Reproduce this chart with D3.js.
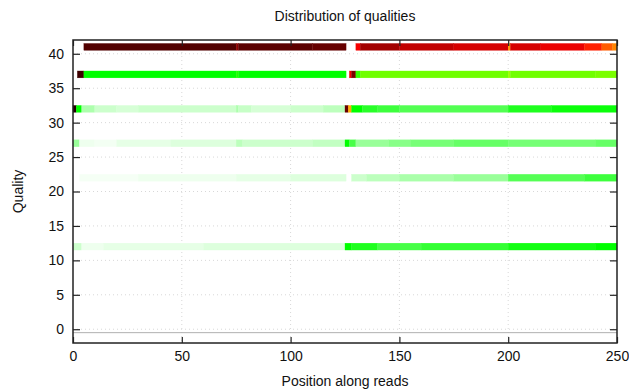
<!DOCTYPE html>
<html>
<head>
<meta charset="utf-8">
<script src="https://cdn.jsdelivr.net/npm/d3@7"></script>
<style>
  body { margin: 0; background: #fff; }
  text { font-family: "Liberation Sans", Arial, sans-serif; }
</style>
</head>
<body>
<div id="chart"></div>
<script>
// quality rows shown in the heatmap
var qualities = [41, 37, 32, 27, 22, 12];

// each row: [from position, to position, palette value 0..1]
var q41 = [[5,75,0.92],[75,76,0.86],[76,110,0.91],[110,125.5,0.9],
  [130,132,0.76],[132,150,0.84],[150,175,0.81],[175,200,0.79],[200,201,0.6],
  [201,215,0.79],[215,235,0.77],[235,243,0.72],[243,248,0.66],[248,250,0.62]];
var q37 = [[2,5,0.94],[5,75,0.25],[75,76,0.28],[76,125.5,0.25],
  [127,128,0.76],[128,130,0.88],[130,132,0.3],[132,200,0.36],[200,201,0.4],
  [201,240,0.36],[240,250,0.37]];
var q32 = [[0,1.5,0.97],[1.5,4,0.25],[4,10,0.08],[10,20,0.05],[20,30,0.04],
  [30,75,0.05],[75,76,0.08],[76,82,0.055],[82,100,0.04],[100,115,0.05],[115,125,0.065],
  [125,126.5,0.9],[126.5,128,0.58],[128,133,0.25],[133,140,0.21],[140,150,0.19],
  [150,200,0.17],[200,220,0.22],[220,250,0.24]];
var q27 = [[0,3,0.1],[3,10,0.017],[10,20,0.012],[20,45,0.025],[45,75,0.033],
  [75,78,0.066],[78,110,0.05],[110,125,0.06],
  [125,127,0.25],[127,130,0.18],[130,145,0.1],[145,155,0.117],[155,175,0.133],
  [175,200,0.15],[200,240,0.135],[240,250,0.15]];
var q22 = [[3,30,0.01],[30,75,0.017],[75,100,0.025],[100,125.5,0.033],
  [128,135,0.05],[135,150,0.066],[150,175,0.083],[175,200,0.1],
  [200,235,0.167],[235,250,0.19]];
var q12 = [[0,4,0.05],[4,14,0.017],[14,60,0.025],[60,125,0.033],
  [125,128,0.25],[128,140,0.22],[140,160,0.18],[160,200,0.2],
  [200,240,0.23],[240,250,0.25]];
var rows = [q41, q37, q32, q27, q22, q12];

var xTicks = [0, 50, 100, 150, 200, 250];
var yTicks = [0, 5, 10, 15, 20, 25, 30, 35, 40];

var margin = {top: 40, right: 12, bottom: 47, left: 73},
  width = 629 - margin.left - margin.right,
  height = 390 - margin.top - margin.bottom;

var svg = d3.select("#chart")
.append("svg")
  .attr("width", width + margin.left + margin.right)
  .attr("height", height + margin.top + margin.bottom);

var chart = svg.append("g")
  .attr("transform", "translate(" + margin.left + "," + margin.top + ")");

var x = d3.scaleLinear().domain([0, 250]).range([0, width]);
var y = d3.scaleLinear().domain([-2, 42]).range([height, 0]);

// gnuplot-like palette: white -> green -> yellow -> red -> black
var myColor = d3.scaleLinear()
  .domain([0, 0.25, 0.5, 0.75, 1])
  .range(["#ffffff", "#00ff00", "#ffff00", "#ff0000", "#000000"]);

// grid
chart.selectAll(".gy").data(yTicks).enter().append("line")
  .attr("x1", 0).attr("x2", width)
  .attr("y1", function(d) { return y(d); }).attr("y2", function(d) { return y(d); })
  .style("stroke", "#d8d8d8").style("stroke-dasharray", "1,3");
chart.selectAll(".gx").data(xTicks.slice(1, -1)).enter().append("line")
  .attr("y1", 0).attr("y2", height)
  .attr("x1", function(d) { return x(d); }).attr("x2", function(d) { return x(d); })
  .style("stroke", "#d8d8d8").style("stroke-dasharray", "1,3");

// heatmap cells
rows.forEach(function(segs, i) {
  var q = qualities[i];
  chart.selectAll(null)
    .data(segs)
    .enter()
    .append("rect")
      .attr("x", function(d) { return x(d[0]); })
      .attr("y", y(q + 0.5))
      .attr("width", function(d) { return x(d[1]) - x(d[0]); })
      .attr("height", y(q - 0.5) - y(q + 0.5))
      .style("fill", function(d) { return myColor(d[2]); })
      .style("stroke", function(d) { return myColor(d[2]); })
      .style("stroke-width", 0.3);
});

// faint line of the empty row
chart.append("line")
  .attr("x1", 0).attr("x2", width)
  .attr("y1", y(-0.5)).attr("y2", y(-0.5))
  .style("stroke", "#b0b0b0").style("stroke-width", 1);

// axes with inward ticks
var ax = chart.append("g")
  .attr("transform", "translate(0," + height + ")")
  .call(d3.axisBottom(x).tickValues(xTicks).tickSize(-6).tickPadding(8));
var ax2 = chart.append("g")
  .call(d3.axisTop(x).tickValues(xTicks).tickSize(-6).tickFormat(""));
var ay = chart.append("g")
  .call(d3.axisLeft(y).tickValues(yTicks).tickSize(-7).tickPadding(9));
var ay2 = chart.append("g")
  .attr("transform", "translate(" + width + ",0)")
  .call(d3.axisRight(y).tickValues(yTicks).tickSize(-7).tickFormat(""));

[ax, ax2, ay, ay2].forEach(function(a) {
  a.select(".domain").remove();
  a.selectAll("line").style("stroke", "#222").style("stroke-width", 1.2);
  a.selectAll("text").style("font-size", "14px").style("fill", "#111")
    .style("font-family", "'Liberation Sans', Arial, sans-serif");
});

// frame
chart.append("rect")
  .attr("width", width).attr("height", height)
  .style("fill", "none").style("stroke", "#222").style("stroke-width", 1.5);

// titles
svg.append("text")
  .attr("x", margin.left + width / 2).attr("y", 21)
  .attr("text-anchor", "middle").style("font-size", "14px").style("fill", "#111")
  .text("Distribution of qualities");
svg.append("text")
  .attr("x", margin.left + width / 2).attr("y", 386)
  .attr("text-anchor", "middle").style("font-size", "14px").style("fill", "#111")
  .text("Position along reads");
svg.append("text")
  .attr("transform", "translate(23," + (margin.top + height / 2) + ") rotate(-90)")
  .attr("text-anchor", "middle").style("font-size", "14px").style("fill", "#111")
  .text("Quality");
</script>
</body>
</html>
